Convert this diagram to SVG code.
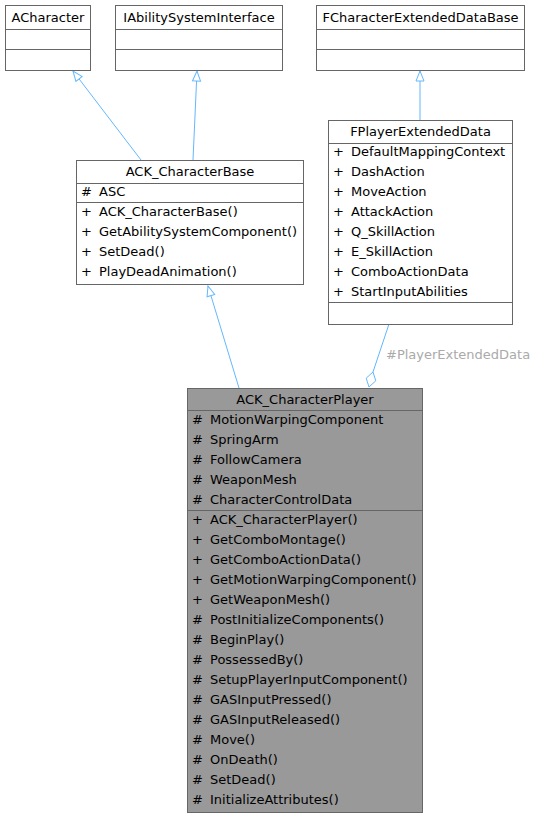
<svg xmlns="http://www.w3.org/2000/svg" width="535" height="819" viewBox="0 0 535 819">
<style>
text{font-family:"DejaVu Sans","Liberation Sans",sans-serif;font-size:13px;fill:#000}
.t{text-anchor:middle}
.box{fill:#fff;stroke:#666;stroke-width:1}
.hl{fill:#999;stroke:#666;stroke-width:1}
.sep{stroke:#666;stroke-width:1}
.e{fill:none;stroke:#63B8FF;stroke-width:1}
.lbl{fill:#aaaaaa}
</style>
<defs>
<marker id="inh" viewBox="0 0 12 10" refX="11" refY="5" markerWidth="12" markerHeight="10" markerUnits="userSpaceOnUse" orient="auto">
<path d="M1,1 L11,5 L1,9 Z" fill="#fff" stroke="#63B8FF" stroke-width="1"/>
</marker>
</defs>
<g id="connectors">
<path class="e" d="M141,160 L73,71" marker-end="url(#inh)"/>
<path class="e" d="M193,160 L197,71" marker-end="url(#inh)"/>
<path class="e" d="M420,120 L420,71" marker-end="url(#inh)"/>
<path class="e" d="M239,388 L208,286" marker-end="url(#inh)"/>
<path class="e" d="M389,324 L373,372"/>
<polygon points="369,387 366.2,378.2 373,372 375.8,380.8" fill="#fff" stroke="#63B8FF" stroke-width="1"/>
<text class="lbl" x="386" y="359">#PlayerExtendedData</text>
</g>
<g id="ACharacter">
<rect class="box" x="5.5" y="5.5" width="85" height="65"/>
<line class="sep" x1="5.5" y1="29.5" x2="90.5" y2="29.5"/>
<line class="sep" x1="5.5" y1="49.5" x2="90.5" y2="49.5"/>
<text class="t" x="48" y="22">ACharacter</text>
</g>
<g id="IAbilitySystemInterface">
<rect class="box" x="115.5" y="5.5" width="167" height="65"/>
<line class="sep" x1="115.5" y1="29.5" x2="282.5" y2="29.5"/>
<line class="sep" x1="115.5" y1="49.5" x2="282.5" y2="49.5"/>
<text class="t" x="199" y="22">IAbilitySystemInterface</text>
</g>
<g id="FCharacterExtendedDataBase">
<rect class="box" x="316.5" y="5.5" width="208" height="65"/>
<line class="sep" x1="316.5" y1="29.5" x2="524.5" y2="29.5"/>
<line class="sep" x1="316.5" y1="49.5" x2="524.5" y2="49.5"/>
<text class="t" x="420.5" y="22">FCharacterExtendedDataBase</text>
</g>
<g id="ACK_CharacterBase">
<rect class="box" x="76.5" y="160.5" width="227" height="124"/>
<line class="sep" x1="76.5" y1="183.5" x2="303.5" y2="183.5"/>
<line class="sep" x1="76.5" y1="202.5" x2="303.5" y2="202.5"/>
<text class="t" x="190" y="176">ACK_CharacterBase</text>
<text x="81" y="196">#</text><text x="99" y="196">ASC</text>
<text x="81" y="216">+</text><text x="99" y="216">ACK_CharacterBase()</text>
<text x="81" y="236">+</text><text x="99" y="236">GetAbilitySystemComponent()</text>
<text x="81" y="256">+</text><text x="99" y="256">SetDead()</text>
<text x="81" y="276">+</text><text x="99" y="276">PlayDeadAnimation()</text>
</g>
<g id="FPlayerExtendedData">
<rect class="box" x="328.5" y="120.5" width="184" height="204"/>
<line class="sep" x1="328.5" y1="143.5" x2="512.5" y2="143.5"/>
<line class="sep" x1="328.5" y1="302.5" x2="512.5" y2="302.5"/>
<text class="t" x="420.5" y="136">FPlayerExtendedData</text>
<text x="333" y="156">+</text><text x="351" y="156">DefaultMappingContext</text>
<text x="333" y="176">+</text><text x="351" y="176">DashAction</text>
<text x="333" y="196">+</text><text x="351" y="196">MoveAction</text>
<text x="333" y="216">+</text><text x="351" y="216">AttackAction</text>
<text x="333" y="236">+</text><text x="351" y="236">Q_SkillAction</text>
<text x="333" y="256">+</text><text x="351" y="256">E_SkillAction</text>
<text x="333" y="276">+</text><text x="351" y="276">ComboActionData</text>
<text x="333" y="296">+</text><text x="351" y="296">StartInputAbilities</text>
</g>
<g id="ACK_CharacterPlayer">
<rect class="hl" x="187.5" y="388.5" width="235" height="424"/>
<line class="sep" x1="187.5" y1="410.5" x2="422.5" y2="410.5"/>
<line class="sep" x1="187.5" y1="510.5" x2="422.5" y2="510.5"/>
<text class="t" x="305" y="404">ACK_CharacterPlayer</text>
<text x="192" y="424">#</text><text x="210" y="424">MotionWarpingComponent</text>
<text x="192" y="444">#</text><text x="210" y="444">SpringArm</text>
<text x="192" y="464">#</text><text x="210" y="464">FollowCamera</text>
<text x="192" y="484">#</text><text x="210" y="484">WeaponMesh</text>
<text x="192" y="504">#</text><text x="210" y="504">CharacterControlData</text>
<text x="192" y="524">+</text><text x="210" y="524">ACK_CharacterPlayer()</text>
<text x="192" y="544">+</text><text x="210" y="544">GetComboMontage()</text>
<text x="192" y="564">+</text><text x="210" y="564">GetComboActionData()</text>
<text x="192" y="584">+</text><text x="210" y="584">GetMotionWarpingComponent()</text>
<text x="192" y="604">+</text><text x="210" y="604">GetWeaponMesh()</text>
<text x="192" y="624">#</text><text x="210" y="624">PostInitializeComponents()</text>
<text x="192" y="644">#</text><text x="210" y="644">BeginPlay()</text>
<text x="192" y="664">#</text><text x="210" y="664">PossessedBy()</text>
<text x="192" y="684">#</text><text x="210" y="684">SetupPlayerInputComponent()</text>
<text x="192" y="704">#</text><text x="210" y="704">GASInputPressed()</text>
<text x="192" y="724">#</text><text x="210" y="724">GASInputReleased()</text>
<text x="192" y="744">#</text><text x="210" y="744">Move()</text>
<text x="192" y="764">#</text><text x="210" y="764">OnDeath()</text>
<text x="192" y="784">#</text><text x="210" y="784">SetDead()</text>
<text x="192" y="804">#</text><text x="210" y="804">InitializeAttributes()</text>
</g>
</svg>
